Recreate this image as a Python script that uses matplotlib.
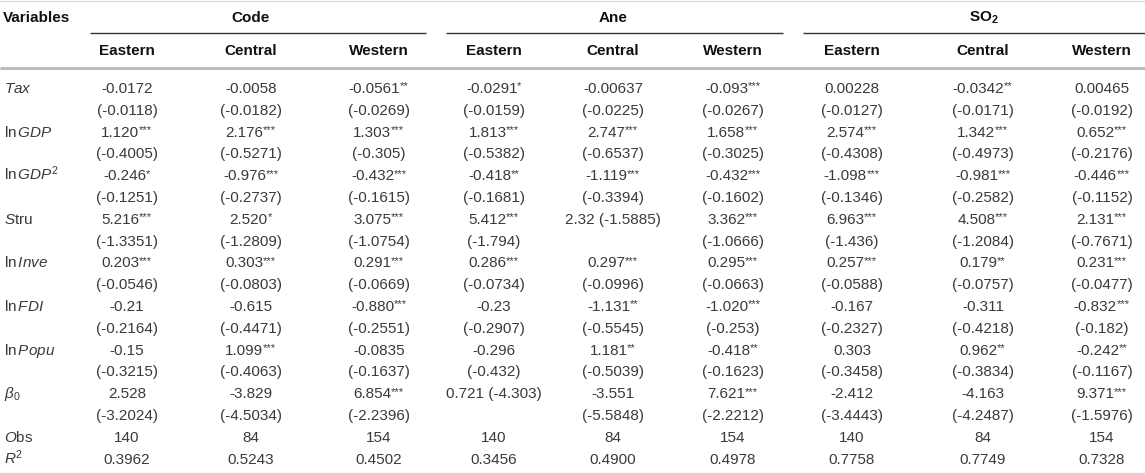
import matplotlib
matplotlib.use('Agg')
import matplotlib.pyplot as plt

plt.rcParams['font.family'] = ['Liberation Sans', 'DejaVu Sans']
plt.rcParams['mathtext.fontset'] = 'custom'
plt.rcParams['mathtext.rm'] = 'Liberation Sans'
plt.rcParams['mathtext.it'] = 'Liberation Sans:italic'
plt.rcParams['mathtext.bf'] = 'Liberation Sans:bold'

W, H = 1145, 474

groups = ['Code', 'Ane', r'$\mathbf{SO_2}$']
regions = ['Eastern', 'Central', 'Western']

var_labels = [r'$Tax$', r'$\mathrm{ln}\,GDP$', r'$\mathrm{ln}\,GDP^2$', r'$S\mathrm{tru}$',
              r'$\mathrm{ln}\,Inve$', r'$\mathrm{ln}\,FDI$', r'$\mathrm{ln}\,Popu$',
              r'$\beta_\mathrm{0}$']

tax = ['-0.0172', '-0.0058', '-0.0561**', '-0.0291*', '-0.00637', '-0.093***', '0.00228', '-0.0342**', '0.00465']
tax_se = ['(-0.0118)', '(-0.0182)', '(-0.0269)', '(-0.0159)', '(-0.0225)', '(-0.0267)', '(-0.0127)', '(-0.0171)', '(-0.0192)']
lngdp = ['1.120***', '2.176***', '1.303***', '1.813***', '2.747***', '1.658***', '2.574***', '1.342***', '0.652***']
lngdp_se = ['(-0.4005)', '(-0.5271)', '(-0.305)', '(-0.5382)', '(-0.6537)', '(-0.3025)', '(-0.4308)', '(-0.4973)', '(-0.2176)']
lngdp2 = ['-0.246*', '-0.976***', '-0.432***', '-0.418**', '-1.119***', '-0.432***', '-1.098***', '-0.981***', '-0.446***']
lngdp2_se = ['(-0.1251)', '(-0.2737)', '(-0.1615)', '(-0.1681)', '(-0.3394)', '(-0.1602)', '(-0.1346)', '(-0.2582)', '(-0.1152)']
stru = ['5.216***', '2.520*', '3.075***', '5.412***', '2.32 (-1.5885)', '3.362***', '6.963***', '4.508***', '2.131***']
stru_se = ['(-1.3351)', '(-1.2809)', '(-1.0754)', '(-1.794)', '', '(-1.0666)', '(-1.436)', '(-1.2084)', '(-0.7671)']
lninve = ['0.203***', '0.303***', '0.291***', '0.286***', '0.297***', '0.295***', '0.257***', '0.179**', '0.231***']
lninve_se = ['(-0.0546)', '(-0.0803)', '(-0.0669)', '(-0.0734)', '(-0.0996)', '(-0.0663)', '(-0.0588)', '(-0.0757)', '(-0.0477)']
lnfdi = ['-0.21', '-0.615', '-0.880***', '-0.23', '-1.131**', '-1.020***', '-0.167', '-0.311', '-0.832***']
lnfdi_se = ['(-0.2164)', '(-0.4471)', '(-0.2551)', '(-0.2907)', '(-0.5545)', '(-0.253)', '(-0.2327)', '(-0.4218)', '(-0.182)']
lnpopu = ['-0.15', '1.099***', '-0.0835', '-0.296', '1.181**', '-0.418**', '0.303', '0.962**', '-0.242**']
lnpopu_se = ['(-0.3215)', '(-0.4063)', '(-0.1637)', '(-0.432)', '(-0.5039)', '(-0.1623)', '(-0.3458)', '(-0.3834)', '(-0.1167)']
beta0 = ['2.528', '-3.829', '6.854***', '0.721 (-4.303)', '-3.551', '7.621***', '-2.412', '-4.163', '9.371***']
beta0_se = ['(-3.2024)', '(-4.5034)', '(-2.2396)', '', '(-5.5848)', '(-2.2212)', '(-3.4443)', '(-4.2487)', '(-1.5976)']
obs = ['140', '84', '154', '140', '84', '154', '140', '84', '154']
r2 = ['0.3962', '0.5243', '0.4502', '0.3456', '0.4900', '0.4978', '0.7758', '0.7749', '0.7328']

rows = []
for lab, c, s in zip(var_labels,
                     [tax, lngdp, lngdp2, stru, lninve, lnfdi, lnpopu, beta0],
                     [tax_se, lngdp_se, lngdp2_se, stru_se, lninve_se, lnfdi_se, lnpopu_se, beta0_se]):
    rows.append((lab, c))
    rows.append(('', s))
rows.append((r'$O\mathrm{bs}$', obs))
rows.append((r'$R^2$', r2))

col_x = [127, 251, 379, 494, 613, 733, 852, 983, 1102]
group_x = [251, 613, 984]
group_lines = [(90, 426), (446, 783), (803, 1145)]
y0, dy = 88, 21.8
fs = 11
txt_col = '#3a3a3a'

fig = plt.figure(figsize=(W / 100, H / 100), dpi=100)
ax = fig.add_axes([0, 0, 1, 1])
ax.set_xlim(0, W)
ax.set_ylim(H, 0)
ax.axis('off')

# header
ax.text(3, 17 + 5, 'Variables', fontsize=fs, fontweight='bold', va='baseline', color='#111111')
for gx, g in zip(group_x, groups):
    ax.text(gx, 17 + 5, g, fontsize=fs, fontweight='bold', ha='center', va='baseline', color='#111111')
for i, cx in enumerate(col_x):
    ax.text(cx, 50 + 5, regions[i % 3], fontsize=fs, fontweight='bold', ha='center', va='baseline',
            color='#111111')

for a, b in group_lines:
    ax.plot([a, b], [33, 33], color='#333333', lw=1.0, solid_capstyle='butt')
ax.plot([0, W], [68, 68], color='#bbbbbb', lw=2.2, solid_capstyle='butt')
ax.plot([0, W], [0.7, 0.7], color='#dddddd', lw=1.0)
ax.plot([0, W], [472.5, 472.5], color='#d5d5d5', lw=1.0)

# body
cells = []
for r, (lab, vals) in enumerate(rows):
    yb = y0 + r * dy + 5
    if lab:
        ax.text(4, yb, lab, fontsize=fs, va='baseline', color=txt_col)
    for cx, v in zip(col_x, vals):
        if not v:
            continue
        num = v.rstrip('*')
        stars = v[len(num):]
        t1 = ax.text(cx, yb, num, fontsize=fs, va='baseline', ha='left', color=txt_col)
        t2 = None
        if stars:
            t2 = ax.text(cx, yb - 3.5, stars, fontsize=8, va='baseline', ha='left', color=txt_col)
        cells.append((cx, t1, t2))

fig.canvas.draw()
rend = fig.canvas.get_renderer()
for cx, t1, t2 in cells:
    w1 = t1.get_window_extent(rend).width
    w2 = t2.get_window_extent(rend).width if t2 is not None else 0
    left = cx - (w1 + w2) / 2
    t1.set_x(left)
    if t2 is not None:
        t2.set_x(left + w1 - 0.5)

fig.savefig('out.png', dpi=100)
